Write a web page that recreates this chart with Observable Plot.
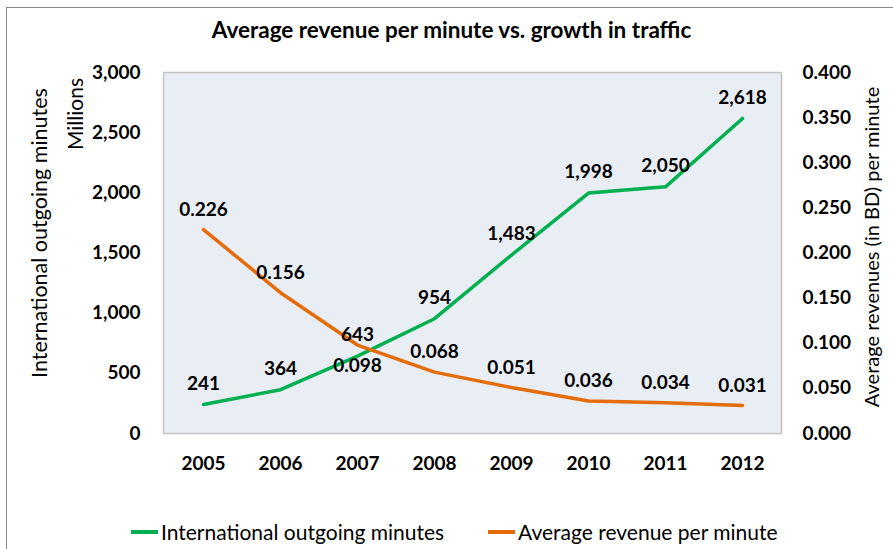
<!DOCTYPE html>
<html>
<head>
<meta charset="utf-8">
<script src="https://cdn.jsdelivr.net/npm/d3@7"></script>
<script src="https://cdn.jsdelivr.net/npm/@observablehq/plot@0.6"></script>
<style>
  html, body { margin: 0; padding: 0; background: #fff; }
  #wrap { position: relative; width: 893px; height: 549px; overflow: hidden; font-family: Lato, "Open Sans", sans-serif; color: #000; }
  #frame { position: absolute; left: 6px; top: 7px; width: 900px; height: 560px; border-left: 1.5px solid #8a8a8a; border-top: 1.5px solid #8a8a8a; pointer-events: none; }
  #title { height: 50px; box-sizing: border-box; padding-top: 18px; line-height: 24px; text-align: center; font-weight: bold; font-size: 22.5px; padding-left: 10px; }
  #chart svg { display: block; }
  #legend { height: 59px; box-sizing: border-box; padding-top: 24px; display: flex; align-items: center; font-size: 21px; line-height: 22px; padding-left: 131px; }
  .sw { display: inline-block; width: 27px; height: 4px; margin-right: 3px; }
</style>
</head>
<body>
<div id="wrap">
  <div id="frame"></div>
  <div id="title">Average revenue per minute vs. growth in traffic</div>
  <div id="chart"></div>
  <div id="legend"></div>
</div>
<script>
// ---- data ----
const years = [2005, 2006, 2007, 2008, 2009, 2010, 2011, 2012];
const minutes = [241, 364, 643, 954, 1483, 1998, 2050, 2618];           // millions
const revenue = [0.226, 0.156, 0.098, 0.068, 0.051, 0.036, 0.034, 0.031]; // BD per minute
const leftTicks = [0, 500, 1000, 1500, 2000, 2500, 3000];
const rightTicks = [0, 0.05, 0.1, 0.15, 0.2, 0.25, 0.3, 0.35, 0.4];
const seriesNames = ["International outgoing minutes", "Average revenue per minute"];
const colors = ["#00B050", "#E46C0A"];

// ---- dual-axis mapping ----
const leftMax = 3000, rightMax = 0.4;
const k = leftMax / rightMax;

const rows = years.map((y, i) => ({year: String(y), minutes: minutes[i], revenue: revenue[i], rev: revenue[i] * k}));

const fmtInt = d3.format(",");

const chart = Plot.plot({
  width: 893,
  height: 440,
  marginTop: 22,
  marginBottom: 57,
  marginLeft: 163,
  marginRight: 112,
  style: {fontFamily: "Lato, 'Open Sans', sans-serif", fontSize: "19px", fontWeight: "bold", color: "#000", background: "transparent", overflow: "visible"},
  x: {type: "point", domain: years.map(String), padding: 0.5},
  y: {domain: [0, leftMax]},
  marks: [
    Plot.frame({fill: "#E9EDF4", stroke: "#C4C4C4", strokeWidth: 1.5}),
    Plot.axisX({tickSize: 0, tickPadding: 23, label: null}),
    Plot.axisY({ticks: leftTicks, tickSize: 0, tickPadding: 23, tickFormat: fmtInt, label: null}),
    Plot.axisY({anchor: "right", ticks: rightTicks.map(v => v * k), tickSize: 0, tickPadding: 21, tickFormat: d => (d / k).toFixed(3), label: null}),
    Plot.text([seriesNames[0]], {frameAnchor: "left", textAnchor: "middle", dx: -123, dy: -20, rotate: -90, fontWeight: "normal", fontSize: 21.5}),
    Plot.text(["Millions"], {frameAnchor: "left", textAnchor: "middle", dx: -87, dy: -139, rotate: -90, fontWeight: "normal", fontSize: 21}),
    Plot.text(["Average revenues (in BD) per minute"], {frameAnchor: "right", textAnchor: "middle", dx: 91, dy: -6, rotate: -90, fontWeight: "normal", fontSize: 20}),
    Plot.line(rows, {x: "year", y: "minutes", stroke: colors[0], strokeWidth: 3.5}),
    Plot.line(rows, {x: "year", y: "rev", stroke: colors[1], strokeWidth: 3.5}),
    Plot.text(rows, {x: "year", y: "minutes", text: d => fmtInt(d.minutes), dy: -21}),
    Plot.text(rows.filter(d => d.year !== "2007"), {x: "year", y: "rev", text: d => d.revenue.toFixed(3), dy: -20}),
    Plot.text(rows.filter(d => d.year === "2007"), {x: "year", y: "rev", text: d => d.revenue.toFixed(3), dy: 21})
  ]
});
document.getElementById("chart").appendChild(chart);

const legend = document.getElementById("legend");
seriesNames.forEach((name, i) => {
  const item = document.createElement("span");
  item.style.display = "inline-flex";
  item.style.alignItems = "center";
  item.style.marginRight = "44px";
  item.innerHTML = `<span class="sw" style="background:${colors[i]}"></span><span>${name}</span>`;
  legend.appendChild(item);
});
</script>
</body>
</html>
